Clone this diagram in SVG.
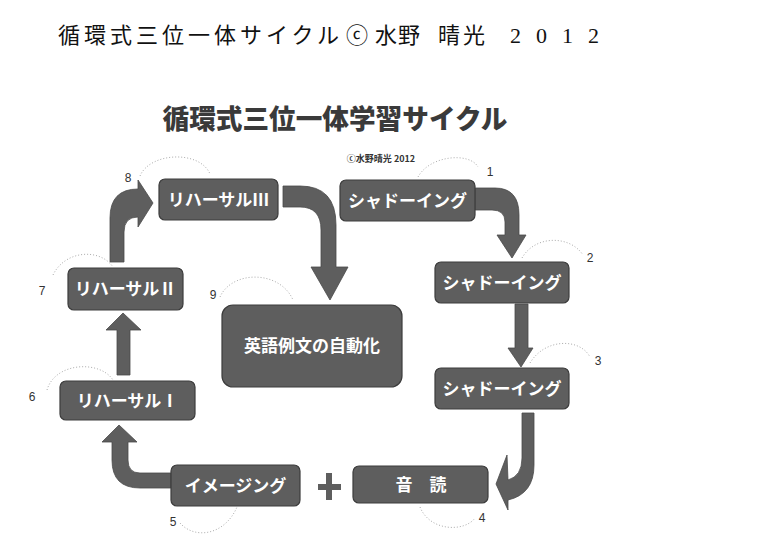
<svg xmlns="http://www.w3.org/2000/svg" width="770" height="557" viewBox="0 0 770 557">
<style>
.box{fill:#5e5e5e;stroke:#3c3c3c;stroke-width:1.2}
.bt{fill:#fff;font-family:"Noto Sans CJK JP",sans-serif;font-weight:700;font-size:17px;text-anchor:middle}
.arr{fill:#5e5e5e;stroke:#4a4a4a;stroke-width:0.8}
.num{fill:#333;font-family:"Liberation Sans",sans-serif;font-size:12px;text-anchor:middle}
.arc{fill:none;stroke:#aaa;stroke-width:1;stroke-dasharray:1 2}
.tt{fill:#111;font-family:"Liberation Serif","Noto Sans CJK JP",serif;font-size:22px;font-weight:400}
</style>
<rect width="770" height="557" fill="#fff"/>
<g id="title">
<text class="tt" x="58" y="43" letter-spacing="4">循環式三位一体サイクル</text>
<text class="tt" x="346" y="43" font-size="26">ⓒ</text>
<text class="tt" x="375" y="43" letter-spacing="1">水野</text>
<text class="tt" x="438" y="43" letter-spacing="3">晴光</text>
<text class="tt" x="510 536 562 588" y="43">2012</text>
</g>
<g id="heading">
<text x="335" y="129" text-anchor="middle" font-family="'Noto Sans CJK JP',sans-serif" font-weight="900" font-size="27" fill="#3a3a3a" textLength="345" lengthAdjust="spacingAndGlyphs">循環式三位一体学習サイクル</text>
<text x="381" y="162" text-anchor="middle" font-family="'Noto Sans CJK JP',sans-serif" font-weight="700" font-size="9" fill="#333">ⓒ水野晴光 2012</text>
</g>
<g id="arcs">
<path class="arc" d="M140,176 C150,152 200,150 210,174"/>
<path class="arc" d="M418,177 C430,155 470,152 478,167"/>
<path class="arc" d="M522,258 C535,235 570,235 583,255"/>
<path class="arc" d="M530,363 C545,338 580,338 590,357"/>
<path class="arc" d="M53,275 C65,250 100,248 113,267"/>
<path class="arc" d="M220,297 C232,270 280,270 293,300"/>
<path class="arc" d="M47,390 C55,362 100,360 113,380"/>
<path class="arc" d="M180,523 C195,540 225,535 237,507"/>
<path class="arc" d="M420,507 C430,532 465,532 475,518"/>
</g>
<g id="connectors">
<path class="arr" d="M110,262 L110,218 Q110,189 138,189 L138,180 L153,203 L138,227 L138,217 Q124,217 124,232 L124,262 Z"/>
<path class="arr" d="M283,186 L300,186 Q336,186 336,225 L336,267 L348,267 L330,300 L311,267 L321,267 L321,230 Q321,207 300,207 L283,207 Z"/>
<path class="arr" d="M475,188 L495,188 Q519,188 519,215 L519,235 L526,235 L512,258 L497,235 L505,235 L505,222 Q505,210 492,210 L475,210 Z"/>
<path class="arr" d="M515,304 L528,304 L528,348 L533,348 L521,367 L508,348 L515,348 Z"/>
<path class="arr" d="M522,413 L534,413 L534,465 Q534,494 508,500 L508,510 L496,484 L507,455 L508,480 Q522,476 522,458 Z"/>
<path class="arr" d="M171,473 L140,473 Q128,473 128,460 L128,442 L137,442 L119,425 L102,442 L112,442 L112,460 Q112,488 140,488 L171,488 Z"/>
<path class="arr" d="M117,375 L117,330 L106,330 L123,313 L141,330 L130,330 L130,375 Z"/>
<path d="M326,473 h6 v11 h9 v6 h-9 v10 h-6 v-10 h-8 v-6 h8 Z" fill="#5e5e5e"/>
</g>
<g id="n1"><rect class="box" x="340" y="180" width="135" height="41" rx="6"/><text class="bt" x="407.5" y="207">シャドーイング</text></g>
<g id="n2"><rect class="box" x="435" y="262" width="134" height="41" rx="6"/><text class="bt" x="502" y="289">シャドーイング</text></g>
<g id="n3"><rect class="box" x="435" y="368" width="134" height="41" rx="6"/><text class="bt" x="502" y="395">シャドーイング</text></g>
<g id="n4"><rect class="box" x="353" y="466" width="135" height="37" rx="6"/><text class="bt" x="421" y="491">音　読</text></g>
<g id="n5"><rect class="box" x="171" y="465" width="129" height="41" rx="6"/><text class="bt" x="235.5" y="492">イメージング</text></g>
<g id="n6"><rect class="box" x="60" y="381" width="135" height="39" rx="6"/><text class="bt" x="127.5" y="407">リハーサルⅠ</text></g>
<g id="n7"><rect class="box" x="68" y="268" width="115" height="42" rx="6"/><text class="bt" x="125.5" y="295">リハーサルⅡ</text></g>
<g id="n8"><rect class="box" x="159" y="179" width="119" height="41" rx="6"/><text class="bt" x="218.5" y="206">リハーサルⅢ</text></g>
<g id="n9"><rect class="box" x="222" y="305" width="180" height="82" rx="11"/><text class="bt" x="312" y="352">英語例文の自動化</text></g>
<g id="labels">
<text class="num" x="490" y="176">1</text>
<text class="num" x="590" y="262">2</text>
<text class="num" x="598" y="365">3</text>
<text class="num" x="482" y="522">4</text>
<text class="num" x="173" y="526">5</text>
<text class="num" x="32" y="401">6</text>
<text class="num" x="42" y="295">7</text>
<text class="num" x="128" y="182">8</text>
<text class="num" x="213" y="299">9</text>
</g>
</svg>
